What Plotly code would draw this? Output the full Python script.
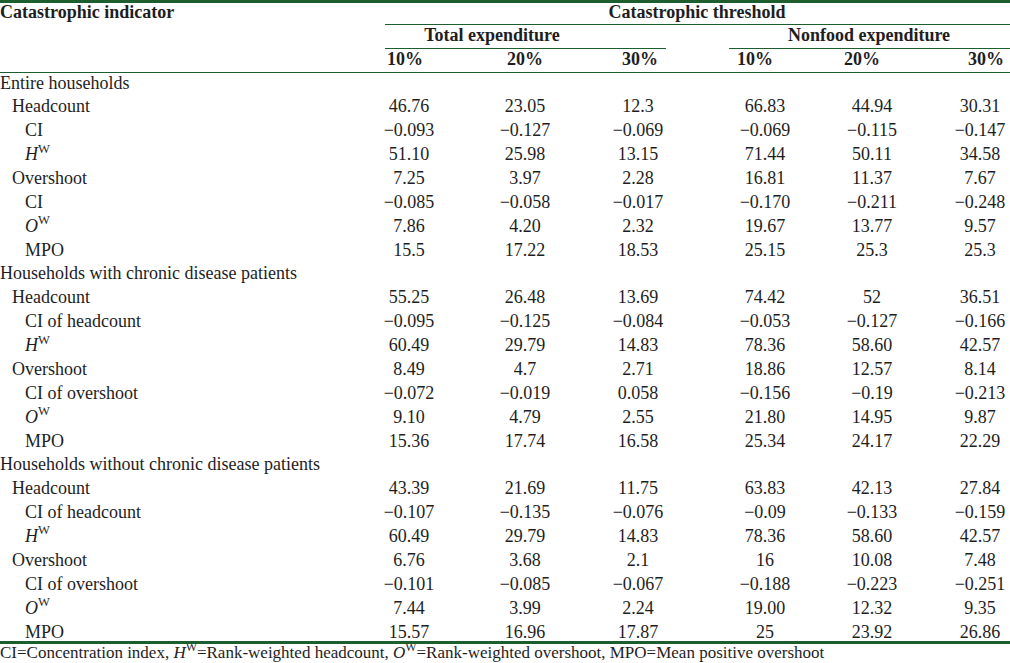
import plotly.graph_objects as go

# ---------------- data ----------------
groups = [
    "Entire households",
    "Households with chronic disease patients",
    "Households without chronic disease patients",
]
labels_entire = ["Headcount", "CI", "<i>H</i><sup>W</sup>", "Overshoot", "CI", "<i>O</i><sup>W</sup>", "MPO"]
labels_sub = ["Headcount", "CI of headcount", "<i>H</i><sup>W</sup>", "Overshoot", "CI of overshoot",
              "<i>O</i><sup>W</sup>", "MPO"]
label_levels = [1, 2, 2, 1, 2, 2, 2]

col_headers = ["10%", "20%", "30%", "10%", "20%", "30%"]
group_headers = ["Total expenditure", "Nonfood expenditure"]
top_header = "Catastrophic threshold"
stub_header = "Catastrophic indicator"

total_10 = ["46.76", "−0.093", "51.10", "7.25", "−0.085", "7.86", "15.5",
            "55.25", "−0.095", "60.49", "8.49", "−0.072", "9.10", "15.36",
            "43.39", "−0.107", "60.49", "6.76", "−0.101", "7.44", "15.57"]
total_20 = ["23.05", "−0.127", "25.98", "3.97", "−0.058", "4.20", "17.22",
            "26.48", "−0.125", "29.79", "4.7", "−0.019", "4.79", "17.74",
            "21.69", "−0.135", "29.79", "3.68", "−0.085", "3.99", "16.96"]
total_30 = ["12.3", "−0.069", "13.15", "2.28", "−0.017", "2.32", "18.53",
            "13.69", "−0.084", "14.83", "2.71", "0.058", "2.55", "16.58",
            "11.75", "−0.076", "14.83", "2.1", "−0.067", "2.24", "17.87"]
nonfood_10 = ["66.83", "−0.069", "71.44", "16.81", "−0.170", "19.67", "25.15",
              "74.42", "−0.053", "78.36", "18.86", "−0.156", "21.80", "25.34",
              "63.83", "−0.09", "78.36", "16", "−0.188", "19.00", "25"]
nonfood_20 = ["44.94", "−0.115", "50.11", "11.37", "−0.211", "13.77", "25.3",
              "52", "−0.127", "58.60", "12.57", "−0.19", "14.95", "24.17",
              "42.13", "−0.133", "58.60", "10.08", "−0.223", "12.32", "23.92"]
nonfood_30 = ["30.31", "−0.147", "34.58", "7.67", "−0.248", "9.57", "25.3",
              "36.51", "−0.166", "42.57", "8.14", "−0.213", "9.87", "22.29",
              "27.84", "−0.159", "42.57", "7.48", "−0.251", "9.35", "26.86"]

footnote = ("CI=Concentration index, <i>H</i><sup>W</sup>=Rank-weighted headcount, "
            "<i>O</i><sup>W</sup>=Rank-weighted overshoot, MPO=Mean positive overshoot")

# ---------------- layout constants ----------------
W, H = 1010, 663
FONT = "Liberation Serif, Times New Roman, serif"
TXT = "#1e1e1e"
GREEN = "#1d5e2f"
FS = 18
ROW0, ROWH = 84, 23.87
COL_X = [409, 525, 638, 765, 872, 980]
HDR_X = [405, 525, 640, 755, 862, 986]
GRP_X = [492, 869]
INDENT = [0, 12, 25]

# build row structure
row_text, row_indent = [], []
for gi, g in enumerate(groups):
    row_text.append(g)
    row_indent.append(INDENT[0])
    labs = labels_entire if gi == 0 else labels_sub
    for lab, lv in zip(labs, label_levels):
        row_text.append(lab)
        row_indent.append(INDENT[lv])

row_y = [ROW0 + i * ROWH for i in range(len(row_text))]
value_y = [y for t, y in zip(row_text, row_y) if t not in groups]

fig = go.Figure()

fig.add_trace(go.Scatter(
    x=row_indent, y=row_y, text=row_text, mode="text",
    textposition="middle right",
    textfont=dict(family=FONT, size=FS, color=TXT),
    hoverinfo="skip", showlegend=False))

for cx, col in zip(COL_X, [total_10, total_20, total_30, nonfood_10, nonfood_20, nonfood_30]):
    fig.add_trace(go.Scatter(
        x=[cx] * len(col), y=value_y, text=col, mode="text",
        textposition="middle center",
        textfont=dict(family=FONT, size=FS, color=TXT),
        hoverinfo="skip", showlegend=False))

# headers
fig.add_trace(go.Scatter(
    x=HDR_X, y=[60] * 6, text=["<b>%s</b>" % c for c in col_headers], mode="text",
    textposition="middle center",
    textfont=dict(family=FONT, size=FS, color=TXT),
    hoverinfo="skip", showlegend=False))
fig.add_trace(go.Scatter(
    x=GRP_X, y=[36, 36], text=["<b>%s</b>" % g for g in group_headers], mode="text",
    textposition="middle center",
    textfont=dict(family=FONT, size=FS, color=TXT),
    hoverinfo="skip", showlegend=False))
fig.add_trace(go.Scatter(
    x=[697], y=[13], text=["<b>%s</b>" % top_header], mode="text",
    textposition="middle center",
    textfont=dict(family=FONT, size=FS, color=TXT),
    hoverinfo="skip", showlegend=False))
fig.add_trace(go.Scatter(
    x=[0], y=[13], text=["<b>%s</b>" % stub_header], mode="text",
    textposition="middle right",
    textfont=dict(family=FONT, size=FS, color=TXT),
    hoverinfo="skip", showlegend=False))
fig.add_trace(go.Scatter(
    x=[0], y=[654], text=[footnote], mode="text",
    textposition="middle right",
    textfont=dict(family=FONT, size=17, color=TXT),
    hoverinfo="skip", showlegend=False))

# rules
shapes = [
    dict(type="line", x0=0, x1=W, y0=1.5, y1=1.5, line=dict(color=GREEN, width=3)),
    dict(type="line", x0=385, x1=W, y0=24.5, y1=24.5, line=dict(color=GREEN, width=1.2)),
    dict(type="line", x0=385, x1=666, y0=48.5, y1=48.5, line=dict(color=GREEN, width=1.2)),
    dict(type="line", x0=729, x1=W, y0=48.5, y1=48.5, line=dict(color=GREEN, width=1.2)),
    dict(type="line", x0=0, x1=W, y0=72.5, y1=72.5, line=dict(color=GREEN, width=1.2)),
    dict(type="line", x0=0, x1=W, y0=642.5, y1=642.5, line=dict(color=GREEN, width=3)),
]
for s in shapes:
    s.update(xref="x", yref="y", layer="above")

fig.update_layout(
    width=W, height=H,
    margin=dict(l=0, r=0, t=0, b=0),
    paper_bgcolor="white", plot_bgcolor="white",
    xaxis=dict(range=[0, W], visible=False, fixedrange=True),
    yaxis=dict(range=[H, 0], visible=False, fixedrange=True),
    shapes=shapes,
    showlegend=False,
)
fig.write_html(
    "out.html",
    config={"displayModeBar": False},
    post_script="document.body.style.margin='0';document.body.style.overflow='hidden';",
)
